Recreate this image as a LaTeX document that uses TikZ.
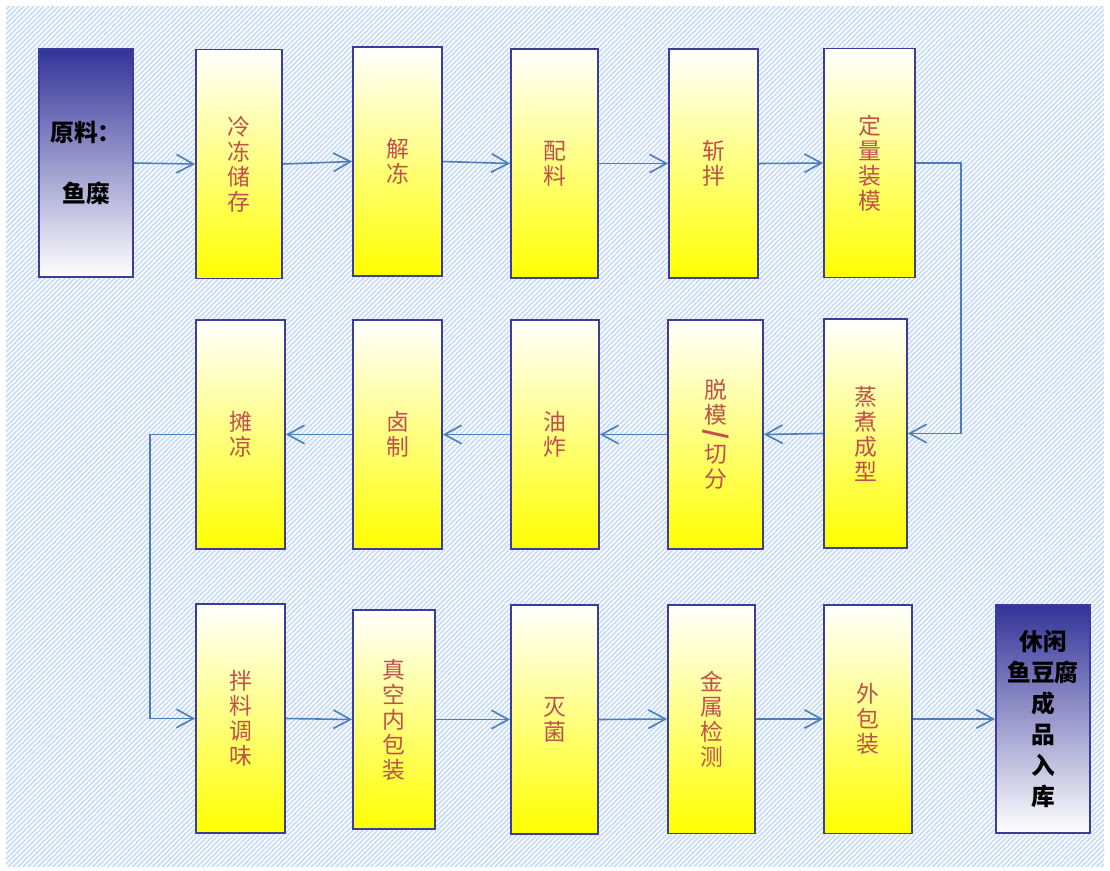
\documentclass[tikz,border=0pt]{standalone}
\usepackage{fontspec}
\usetikzlibrary{patterns.meta,arrows.meta}
\newfontfamily\cjk{Noto Sans CJK SC}
\definecolor{boxline}{HTML}{3C3C9C}
\definecolor{rawblue}{HTML}{333399}
\definecolor{stepred}{HTML}{C0504D}
\definecolor{flowblue}{HTML}{4A7EBB}
\definecolor{bgline}{HTML}{C8DBF7}

\begin{document}
\begin{tikzpicture}[x=0.02cm,y=-0.02cm,
	procbox/.style={draw=boxline, line width=1.1pt,
		top color=white, bottom color=yellow,
		minimum height=4.58cm, inner sep=0pt,
		text=stepred, align=center,
		font=\cjk\fontsize{13}{14.2}\selectfont},
	endbox/.style={draw=boxline, line width=1.1pt,
		top color=rawblue, bottom color=white,
		minimum height=4.56cm, inner sep=0pt,
		text=black, align=center,
		font=\cjk\bfseries\fontsize{13.5}{17.6}\selectfont},
	flow/.style={flowblue, line width=0.9pt,
		-{Straight Barb[length=0.34cm,width=0.37cm]}}]
		\useasboundingbox (0,0) rectangle (1110,870);
		% background
		\fill[white] (0,0) rectangle (1110,870);
		\fill[pattern={Lines[angle=45,distance=2pt,line width=1pt]},
		pattern color=bgline] (6,6) rectangle (1104,866);

		% first row
		\node[endbox, minimum width=1.88cm] (raw) at (86,163) {原料：\\[17pt]鱼糜};
		\node[procbox, minimum width=1.72cm] (cold) at (239,164) {冷\\冻\\储\\存};
		\node[procbox, minimum width=1.78cm] (thaw) at (397.5,161.5) {解\\冻};
		\node[procbox, minimum width=1.74cm] (mix) at (554.5,163.5) {配\\料};
		\node[procbox, minimum width=1.78cm] (chop) at (713.5,163.5) {斩\\拌};
		\node[procbox, minimum width=1.82cm] (mould) at (869.5,163) {定\\量\\装\\模};

		% second row
		\node[procbox, minimum width=1.66cm] (steam) at (865.5,433.5) {蒸\\煮\\成\\型};
		\node[procbox, minimum width=1.90cm] (demould) at (715.5,434.5)
		{脱\\模\\[-3pt]\rotatebox[origin=c]{-90}{\bfseries\fontsize{15}{15}\selectfont /}\\[-3pt]切\\分};
		\node[procbox, minimum width=1.76cm] (fry) at (555,434.5) {油\\炸};
		\node[procbox, minimum width=1.78cm] (marinate) at (397.5,434.5) {卤\\制};
		\node[procbox, minimum width=1.78cm] (cool) at (240.5,434.5) {摊\\凉};

		% third row
		\node[procbox, minimum width=1.78cm] (season) at (240.5,718.5) {拌\\料\\调\\味};
		\node[procbox, minimum width=1.64cm, minimum height=4.38cm] (pack) at (394,719.5) {真\\空\\内\\包\\装};
		\node[procbox, minimum width=1.74cm] (sterile) at (554.5,719.5) {灭\\菌};
		\node[procbox, minimum width=1.74cm] (metal) at (711.5,719) {金\\属\\检\\测};
		\node[procbox, minimum width=1.76cm] (outer) at (868,719) {外\\包\\装};
		\node[endbox, minimum width=1.88cm] (store) at (1043,719) {休闲\\鱼豆腐\\成\\品\\入\\库};

		% arrows
		\draw[flow] (raw.east) -- (cold.west);
		\draw[flow] (cold.east) -- (thaw.west);
		\draw[flow] (thaw.east) -- (mix.west);
		\draw[flow] (mix.east) -- (chop.west);
		\draw[flow] (chop.east) -- (mould.west);
		\draw[flow] (mould.east) -- ++(45,0) |- (steam.east);
		\draw[flow] (steam.west) -- (demould.east);
		\draw[flow] (demould.west) -- (fry.east);
		\draw[flow] (fry.west) -- (marinate.east);
		\draw[flow] (marinate.west) -- (cool.east);
		\draw[flow] (cool.west) -- ++(-45,0) |- (season.west);
		\draw[flow] (season.east) -- (pack.west);
		\draw[flow] (pack.east) -- (sterile.west);
		\draw[flow] (sterile.east) -- (metal.west);
		\draw[flow] (metal.east) -- (outer.west);
		\draw[flow] (outer.east) -- (store.west);
\end{tikzpicture}
\end{document}
